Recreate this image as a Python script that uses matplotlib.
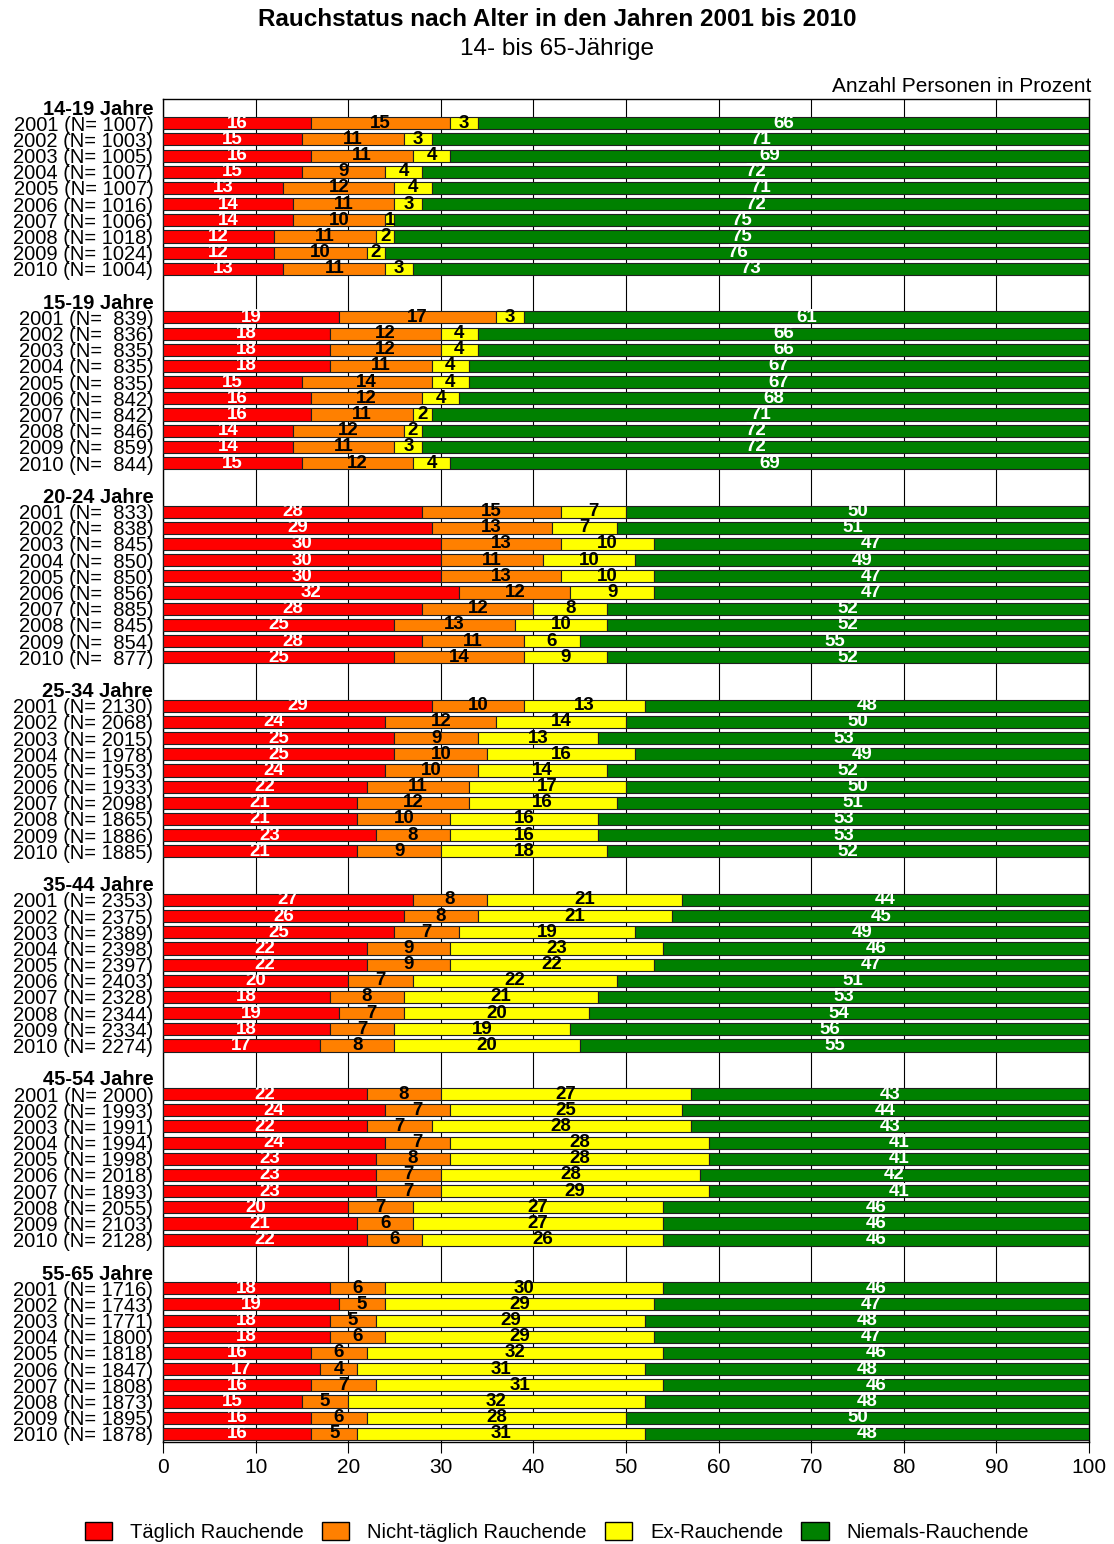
import numpy as np
import matplotlib.pyplot as plt
from matplotlib.patches import Patch

plt.rcParams['font.family'] = ['Liberation Sans', 'DejaVu Sans']

years = list(range(2001, 2011))
groups = ["14-19 Jahre", "15-19 Jahre", "20-24 Jahre", "25-34 Jahre",
          "35-44 Jahre", "45-54 Jahre", "55-65 Jahre"]

n_persons = [
    [1007, 1003, 1005, 1007, 1007, 1016, 1006, 1018, 1024, 1004],
    [839, 836, 835, 835, 835, 842, 842, 846, 859, 844],
    [833, 838, 845, 850, 850, 856, 885, 845, 854, 877],
    [2130, 2068, 2015, 1978, 1953, 1933, 2098, 1865, 1886, 1885],
    [2353, 2375, 2389, 2398, 2397, 2403, 2328, 2344, 2334, 2274],
    [2000, 1993, 1991, 1994, 1998, 2018, 1893, 2055, 2103, 2128],
    [1716, 1743, 1771, 1800, 1818, 1847, 1808, 1873, 1895, 1878],
]

taeglich = [
    [16, 15, 16, 15, 13, 14, 14, 12, 12, 13],
    [19, 18, 18, 18, 15, 16, 16, 14, 14, 15],
    [28, 29, 30, 30, 30, 32, 28, 25, 28, 25],
    [29, 24, 25, 25, 24, 22, 21, 21, 23, 21],
    [27, 26, 25, 22, 22, 20, 18, 19, 18, 17],
    [22, 24, 22, 24, 23, 23, 23, 20, 21, 22],
    [18, 19, 18, 18, 16, 17, 16, 15, 16, 16],
]
nicht_taeglich = [
    [15, 11, 11, 9, 12, 11, 10, 11, 10, 11],
    [17, 12, 12, 11, 14, 12, 11, 12, 11, 12],
    [15, 13, 13, 11, 13, 12, 12, 13, 11, 14],
    [10, 12, 9, 10, 10, 11, 12, 10, 8, 9],
    [8, 8, 7, 9, 9, 7, 8, 7, 7, 8],
    [8, 7, 7, 7, 8, 7, 7, 7, 6, 6],
    [6, 5, 5, 6, 6, 4, 7, 5, 6, 5],
]
ex_rauchende = [
    [3, 3, 4, 4, 4, 3, 1, 2, 2, 3],
    [3, 4, 4, 4, 4, 4, 2, 2, 3, 4],
    [7, 7, 10, 10, 10, 9, 8, 10, 6, 9],
    [13, 14, 13, 16, 14, 17, 16, 16, 16, 18],
    [21, 21, 19, 23, 22, 22, 21, 20, 19, 20],
    [27, 25, 28, 28, 28, 28, 29, 27, 27, 26],
    [30, 29, 29, 29, 32, 31, 31, 32, 28, 31],
]
niemals = [
    [66, 71, 69, 72, 71, 72, 75, 75, 76, 73],
    [61, 66, 66, 67, 67, 68, 71, 72, 72, 69],
    [50, 51, 47, 49, 47, 47, 52, 52, 55, 52],
    [48, 50, 53, 49, 52, 50, 51, 53, 53, 52],
    [44, 45, 49, 46, 47, 51, 53, 54, 56, 55],
    [43, 44, 43, 41, 41, 42, 41, 46, 46, 46],
    [46, 47, 48, 47, 46, 48, 46, 48, 50, 48],
]

series = [taeglich, nicht_taeglich, ex_rauchende, niemals]
names = ["Täglich Rauchende", "Nicht-täglich Rauchende", "Ex-Rauchende", "Niemals-Rauchende"]
colors = ["#ff0000", "#ff8000", "#ffff00", "#008000"]
label_colors = ["white", "black", "black", "white"]

# slot layout: header row, 10 year rows, blank row per group
pos, ticks, ticklabels, bold = [], [], [], []
for g, grp in enumerate(groups):
    base = g * 12
    ticks.append(base)
    ticklabels.append(grp)
    bold.append(True)
    for i, yr in enumerate(years):
        pos.append(base + 1 + i)
        ticks.append(base + 1 + i)
        ticklabels.append(f"{yr} (N={n_persons[g][i]:5d})")
        bold.append(False)
pos = np.array(pos)

fig = plt.figure(figsize=(11.14, 15.44), dpi=100)
ax = fig.add_axes([0.1463, 0.0661, 0.8313, 0.8698])

left = np.zeros(len(pos))
for s, name, col, lc in zip(series, names, colors, label_colors):
    vals = np.array(s).flatten()
    bars = ax.barh(pos, vals, left=left, height=0.75, color=col,
                   edgecolor="#202020", linewidth=0.8, zorder=3)
    ax.bar_label(bars, labels=[str(v) if v > 0 else "" for v in vals],
                 label_type="center", color=lc, fontsize=13.5,
                 fontweight="bold", zorder=4)
    left += vals

ax.set_xlim(0, 100)
ax.set_ylim(82.5, -0.5)
ax.set_xticks(range(0, 101, 10))
ax.set_yticks(ticks)
ax.set_yticklabels(ticklabels, fontsize=14.5)
for lab, b in zip(ax.get_yticklabels(), bold):
    if b:
        lab.set_fontweight("bold")
ax.tick_params(axis="y", length=0, pad=7)
ax.tick_params(axis="x", length=8, labelsize=15, direction="out")
ax.xaxis.grid(True, color="black", linewidth=0.8, zorder=0)
ax.set_axisbelow(True)
for sp in ax.spines.values():
    sp.set_linewidth(1.0)

fig.text(0.5, 1 - 20 / 1544, "Rauchstatus nach Alter in den Jahren 2001 bis 2010",
         ha="center", va="center", fontsize=17.5, fontweight="bold")
fig.text(0.5, 1 - 49 / 1544, "14- bis 65-Jährige", ha="center", va="center", fontsize=17.5)
fig.text(1091 / 1114, 1 - 87 / 1544, "Anzahl Personen in Prozent",
         ha="right", va="center", fontsize=15)

handles = [Patch(facecolor=c, edgecolor="black", linewidth=1) for c in colors]
fig.legend(handles, names, loc="center", bbox_to_anchor=(0.5, 1 - 1532 / 1544),
           ncol=4, frameon=False, fontsize=14.5, handlelength=1.35, handleheight=1.0,
           handletextpad=0.9, columnspacing=0.9)

fig.savefig("out.png", dpi=100)
